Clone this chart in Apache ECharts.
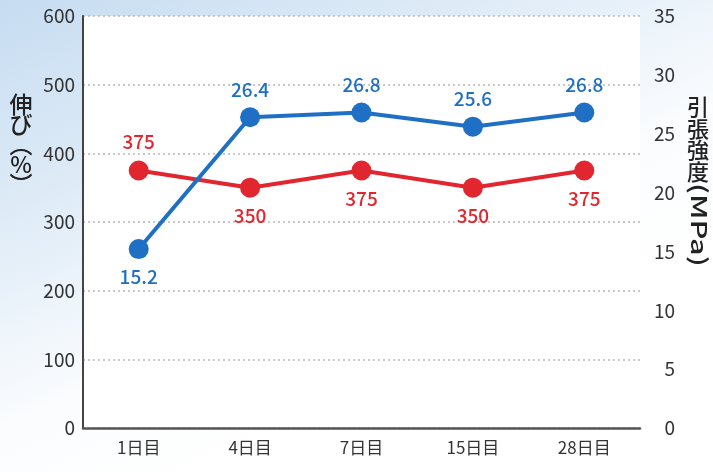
<!DOCTYPE html>
<html>
<head>
<meta charset="utf-8">
<script src="https://cdn.jsdelivr.net/npm/echarts@6/dist/echarts.min.js"></script>
<style>
html,body{margin:0;padding:0;}
#c{width:713px;height:472px;}
</style>
</head>
<body>
<div id="c"></div>
<script>
const categories = ['1日目', '4日目', '7日目', '15日目', '28日目'];
const elongation = [375, 350, 375, 350, 375];          // 伸び(%) left axis
const strength = [15.2, 26.4, 26.8, 25.6, 26.8];        // 引張強度(MPa) right axis
const elongLabelPos = ['top', 'bottom', 'bottom', 'bottom', 'bottom'];
const strengthLabelPos = ['bottom', 'top', 'top', 'top', 'top'];
const leftTicks = [0, 100, 200, 300, 400, 500, 600];
const rightTicks = [0, 5, 10, 15, 20, 25, 30, 35];

const FONT = '"Noto Sans CJK JP", "Noto Sans", sans-serif';
const BLUE = '#1f6fc4';
const RED = '#e2262f';

const chart = echarts.init(document.getElementById('c'));
chart.setOption({
  backgroundColor: {
    type: 'linear', x: 0, y: 0, x2: 0.3, y2: 1,
    colorStops: [
      {offset: 0, color: '#c6dcf1'},
      {offset: 0.45, color: '#e3eef8'},
      {offset: 0.75, color: '#fafcfe'},
      {offset: 1, color: '#ffffff'}
    ]
  },
  animation: false,
  textStyle: {fontFamily: FONT},
  grid: {
    left: 83, right: 73, top: 16, bottom: 44,
    show: true, backgroundColor: '#ffffff', borderWidth: 0
  },
  xAxis: {
    type: 'category',
    data: categories,
    boundaryGap: true,
    axisLine: {lineStyle: {color: '#555', width: 2.5}},
    axisTick: {show: false},
    axisLabel: {color: '#333', fontSize: 17, margin: 11, fontFamily: FONT}
  },
  yAxis: [
    {
      type: 'value', min: leftTicks[0], max: leftTicks[leftTicks.length - 1], interval: 100,
      position: 'left',
      axisLine: {show: true, lineStyle: {color: '#444', width: 2}},
      axisTick: {show: false},
      axisLabel: {color: '#333', fontSize: 19, margin: 8, fontFamily: FONT},
      splitLine: {show: true, lineStyle: {color: '#b8b8b8', type: [2, 3], width: 1.5}}
    },
    {
      type: 'value', min: rightTicks[0], max: rightTicks[rightTicks.length - 1], interval: 5,
      position: 'right',
      axisLine: {show: false},
      axisTick: {show: false},
      axisLabel: {color: '#333', fontSize: 19, margin: 35, align: 'right', fontFamily: FONT},
      splitLine: {show: false}
    }
  ],
  graphic: [
    {
      type: 'text', x: 21, y: 94,
      style: {
        text: '伸\nび\n︵\n%\n︶',
        font: '500 23px ' + FONT,
        fill: '#222',
        lineHeight: 20,
        align: 'center'
      }
    },
    {
      type: 'text', x: 698, y: 96,
      style: {
        text: '引\n張\n強\n度',
        font: '500 22px ' + FONT,
        fill: '#222',
        lineHeight: 21.5,
        align: 'center'
      }
    },
    {
      type: 'text', x: 710, y: 183, rotation: -Math.PI / 2, scaleX: 1.4,
      style: {
        text: '(MPa)',
        font: '500 22px ' + FONT,
        fill: '#222'
      }
    }
  ],
  series: [
    {
      name: '伸び',
      type: 'line',
      yAxisIndex: 0,
      data: elongation.map((v, i) => ({value: v, label: {position: elongLabelPos[i]}})),
      symbol: 'circle',
      symbolSize: 20,
      lineStyle: {color: RED, width: 4},
      itemStyle: {color: RED},
      label: {show: true, color: RED, fontSize: 19, fontWeight: 500, distance: 9, fontFamily: FONT},
      z: 2
    },
    {
      name: '引張強度',
      type: 'line',
      yAxisIndex: 1,
      data: strength.map((v, i) => ({value: v, label: {position: strengthLabelPos[i]}})),
      symbol: 'circle',
      symbolSize: 20,
      lineStyle: {color: BLUE, width: 4},
      itemStyle: {color: BLUE},
      label: {show: true, color: BLUE, fontSize: 19, fontWeight: 500, distance: 8, fontFamily: FONT,
        formatter: p => p.value.toFixed(1)},
      z: 3
    }
  ]
});
</script>
</body>
</html>
